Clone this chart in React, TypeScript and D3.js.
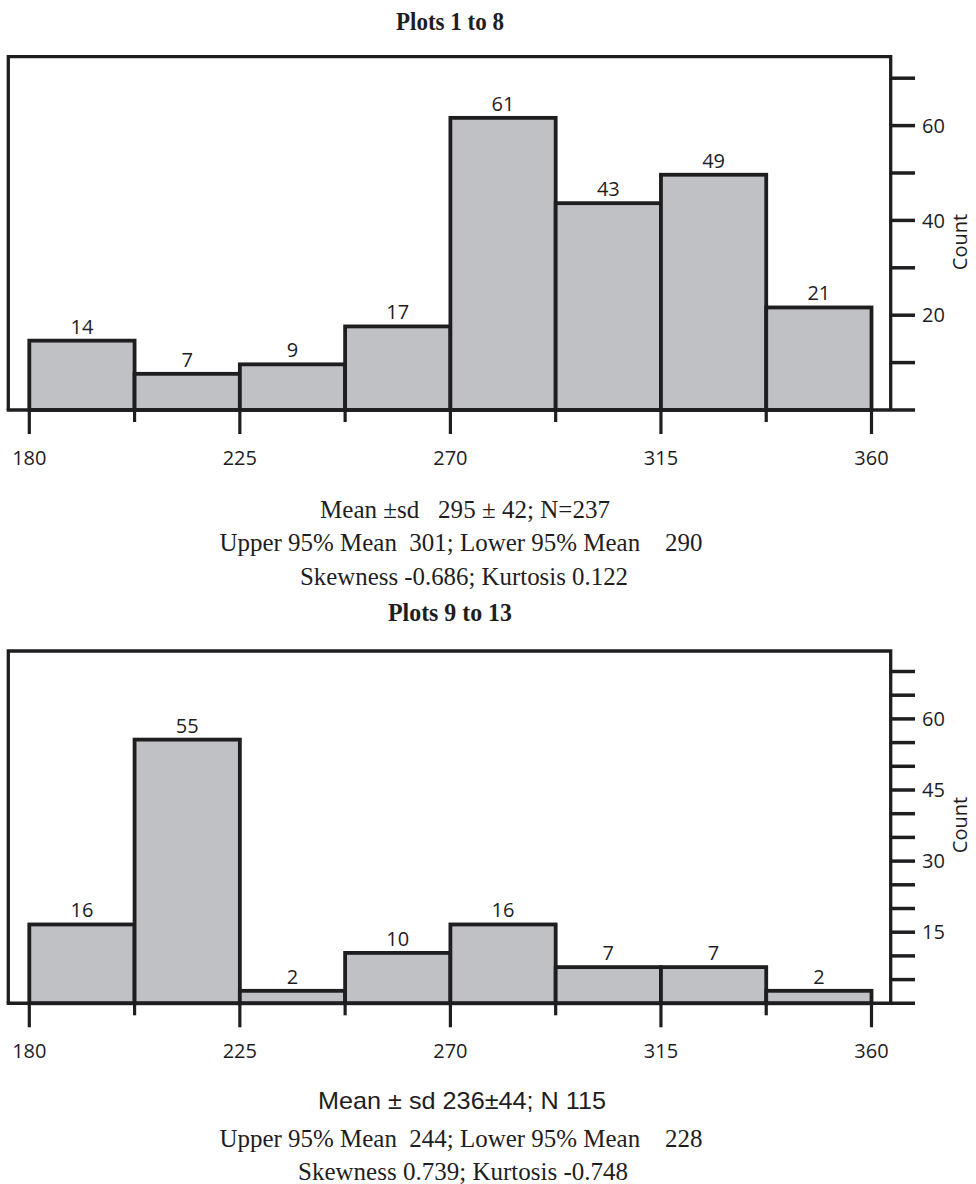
import React from 'react';
import * as d3 from 'd3';

// histogram bins (degrees) and counts
const binEdges = [180, 202.5, 225, 247.5, 270, 292.5, 315, 337.5, 360];
const majorTicks = [180, 225, 270, 315, 360];
const minorTicks = [202.5, 247.5, 292.5, 337.5];

const countsTop = [14, 7, 9, 17, 61, 43, 49, 21];
const countsBottom = [16, 55, 2, 10, 16, 7, 7, 2];

const yTicksTop = [0, 10, 20, 30, 40, 50, 60, 70];
const yLabelsTop = [20, 40, 60];
const yTicksBottom = [0, 5, 10, 15, 20, 25, 30, 35, 40, 45, 50, 55, 60, 65, 70];
const yLabelsBottom = [15, 30, 45, 60];

const titleTop = 'Plots 1 to 8';
const titleBottom = 'Plots 9 to 13';
const statsTop = [
  'Mean ±sd   295 ± 42; N=237',
  'Upper 95% Mean  301; Lower 95% Mean    290',
  'Skewness -0.686; Kurtosis 0.122',
];
const statsBottom = [
  'Mean ± sd 236±44; N 115',
  'Upper 95% Mean  244; Lower 95% Mean    228',
  'Skewness 0.739; Kurtosis -0.748',
];

const W = 976;
const H = 1184;
const frameLeft = 8.3;
const frameRight = 890.7;
const tickEnd = 915;
const ink = '#1e1d1f';
const barFill = '#c0c1c5';
const sans = '"Open Sans", "DejaVu Sans", sans-serif';
const serif = '"Liberation Serif", "Times New Roman", serif';

const x = d3.scaleLinear().domain([180, 360]).range([29.3, 871.5]);

type PanelProps = {
  counts: number[];
  ticks: number[];
  labels: number[];
  baseline: number;
  frameTop: number;
  countY: number;
};

function Panel({ counts, ticks, labels, baseline, frameTop, countY }: PanelProps) {
  const y = d3.scaleLinear().domain([0, 75]).range([baseline, baseline - 75 * 4.74]);
  const bins = counts.map((c, i) => ({ c, x0: binEdges[i], x1: binEdges[i + 1] }));
  return (
    <g>
      {/* frame */}
      <path
        d={`M${frameLeft},${baseline} V${frameTop} H${frameRight} V${baseline}`}
        fill="none"
        stroke={ink}
        strokeWidth={3.3}
      />
      {/* bars */}
      {bins.map((b, i) => {
        const top = y(b.c) - 3;
        return (
          <g key={i}>
            <rect
              x={x(b.x0)}
              y={top}
              width={x(b.x1) - x(b.x0)}
              height={baseline - top}
              fill={barFill}
              stroke={ink}
              strokeWidth={3.8}
            />
            <text
              x={(x(b.x0) + x(b.x1)) / 2}
              y={top - 7}
              textAnchor="middle"
              fontFamily={sans}
              fontSize={20}
              fill={ink}
            >
              {b.c}
            </text>
          </g>
        );
      })}
      {/* baseline */}
      <line x1={frameLeft - 1.6} x2={tickEnd} y1={baseline} y2={baseline} stroke={ink} strokeWidth={3.5} />
      {/* x ticks */}
      {majorTicks.map((t) => (
        <g key={t}>
          <line x1={x(t)} x2={x(t)} y1={baseline} y2={baseline + 24} stroke={ink} strokeWidth={3.2} />
          <text x={x(t)} y={baseline + 55} textAnchor="middle" fontFamily={sans} fontSize={20} fill={ink}>
            {t}
          </text>
        </g>
      ))}
      {minorTicks.map((t) => (
        <line key={t} x1={x(t)} x2={x(t)} y1={baseline} y2={baseline + 12} stroke={ink} strokeWidth={3.2} />
      ))}
      {/* right y axis */}
      {ticks.filter((t) => t > 0).map((t) => (
        <line key={t} x1={frameRight} x2={tickEnd} y1={y(t)} y2={y(t)} stroke={ink} strokeWidth={3.5} />
      ))}
      {labels.map((t) => (
        <text key={t} x={922} y={y(t)} dy="0.36em" fontFamily={sans} fontSize={20} fill={ink}>
          {t}
        </text>
      ))}
      <text
        transform={`translate(967,${countY}) rotate(-90)`}
        textAnchor="middle"
        fontFamily={sans}
        fontSize={20}
        fill={ink}
      >
        Count
      </text>
    </g>
  );
}

type TextLine = { text: string; y: number; len: number; font: string; size: number; weight?: string };

const textLines: TextLine[] = [
  { text: titleTop, y: 30, len: 108, font: serif, size: 26, weight: 'bold' },
  { text: statsTop[0], y: 518, len: 290, font: serif, size: 25 },
  { text: statsTop[1], y: 551, len: 483, font: serif, size: 25 },
  { text: statsTop[2], y: 585, len: 328, font: serif, size: 25 },
  { text: titleBottom, y: 621, len: 124, font: serif, size: 26, weight: 'bold' },
  { text: statsBottom[0], y: 1109, len: 288, font: '"Liberation Sans", Arial, sans-serif', size: 24 },
  { text: statsBottom[1], y: 1147, len: 483, font: serif, size: 25 },
  { text: statsBottom[2], y: 1180, len: 330, font: serif, size: 25 },
];

const textCenters = [450, 465, 461, 464, 450, 462, 461, 463];

export default function App() {
  return (
    <svg
      width={W}
      height={H}
      viewBox={`0 0 ${W} ${H}`}
      style={{ position: 'absolute', left: 0, top: 0, background: '#fff' }}
    >
      <rect width={W} height={H} fill="#fff" />
      <Panel
        counts={countsTop}
        ticks={yTicksTop}
        labels={yLabelsTop}
        baseline={410}
        frameTop={56.7}
        countY={242}
      />
      <Panel
        counts={countsBottom}
        ticks={yTicksBottom}
        labels={yLabelsBottom}
        baseline={1003.3}
        frameTop={651}
        countY={825}
      />
      {textLines.map((l, i) => (
        <text
          key={i}
          x={textCenters[i]}
          y={l.y}
          textAnchor="middle"
          fontFamily={l.font}
          fontSize={l.size}
          fontWeight={l.weight || 'normal'}
          fill={ink}
          textLength={l.len}
          lengthAdjust="spacingAndGlyphs"
          style={{ whiteSpace: 'pre' }}
        >
          {l.text}
        </text>
      ))}
    </svg>
  );
}
